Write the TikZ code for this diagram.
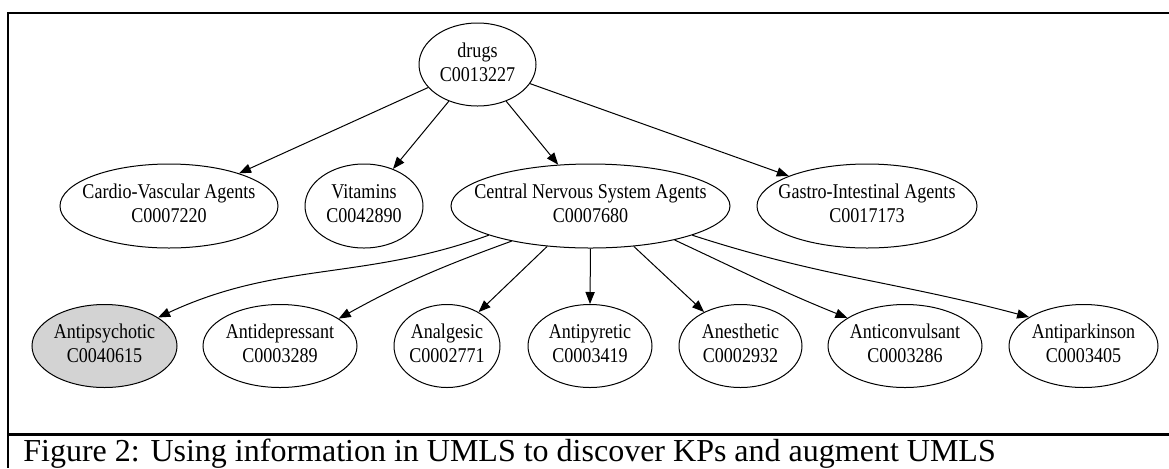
\documentclass[tikz,border=0pt]{standalone}
\usepackage{fontspec}
\usepackage{tikz}
\usetikzlibrary{shapes.geometric,arrows.meta}
\newfontfamily\gvfont{Liberation Serif}[FakeStretch=0.86]
\newfontfamily\capfont{Liberation Serif}
\definecolor{gvgray}{HTML}{D3D3D3}
\newcommand{\cui}[2]{\makebox[0pt]{\begin{tabular}{@{}c@{}}#1\\#2\end{tabular}}}

\begin{document}
\begin{tikzpicture}[x=0.5pt,y=0.5pt]
\tikzstyle{every node}+=[inner sep=0pt]
\tikzstyle{concept}=[ellipse, draw=black, line width=0.5pt, font={\gvfont\fontsize{10.5}{12}\selectfont}]
\tikzstyle{link}=[black, line width=0.5pt, -{Triangle[length=6pt,width=4.6pt]}]
\useasboundingbox (0,0) rectangle (1169,-468);
\draw [black, line width=1.2pt] (1169,-13) -- (7.8,-13) -- (7.8,-468);
\draw [black, line width=1.2pt] (7.8,-434.5) -- (1169,-434.5);
\node [concept, minimum width=58.5pt, minimum height=41.5pt] (drugs) at (477.5,-64.5) {\cui{drugs}{C0013227}};
\node [concept, minimum width=109pt, minimum height=42pt] (cardio) at (169,-206) {\cui{Cardio-Vascular Agents}{C0007220}};
\node [concept, minimum width=59pt, minimum height=42pt] (vitamins) at (364,-206) {\cui{Vitamins}{C0042890}};
\node [concept, minimum width=139.5pt, minimum height=42pt] (cns) at (590.5,-206) {\cui{Central Nervous System Agents}{C0007680}};
\node [concept, minimum width=110pt, minimum height=42pt] (gastro) at (867,-206) {\cui{Gastro-Intestinal Agents}{C0017173}};
\node [concept, fill=gvgray, minimum width=72.5pt, minimum height=41.5pt] (antipsy) at (104.5,-346) {\cui{Antipsychotic}{C0040615}};
\node [concept, minimum width=77pt, minimum height=41.5pt] (antidep) at (280,-346) {\cui{Antidepressant}{C0003289}};
\node [concept, minimum width=53pt, minimum height=41.5pt] (analg) at (447,-346) {\cui{Analgesic}{C0002771}};
\node [concept, minimum width=62pt, minimum height=41.5pt] (antipyr) at (590,-346) {\cui{Antipyretic}{C0003419}};
\node [concept, minimum width=61.5pt, minimum height=41.5pt] (anesth) at (740.5,-346) {\cui{Anesthetic}{C0002932}};
\node [concept, minimum width=77pt, minimum height=41.5pt] (anticonv) at (905,-346) {\cui{Anticonvulsant}{C0003286}};
\node [concept, minimum width=74.5pt, minimum height=41.5pt] (antipark) at (1083.5,-346) {\cui{Antiparkinson}{C0003405}};
\draw [link] (drugs.205) -- (cardio.25);
\draw [link] (drugs.232) -- (vitamins.52);
\draw [link] (drugs.308) -- (cns.128);
\draw [link] (drugs.340) -- (gastro.159);
\draw [link] (cns.196) to[out=200,in=25] (antipsy.28);
\draw [link] (cns.204) to[out=200,in=29] (antidep.25);
\draw [link] (cns.223) -- (analg.47);
\draw [link] (cns.270) -- (antipyr.90);
\draw [link] (cns.317) -- (anesth.137);
\draw [link] (cns.338) to[out=335,in=158] (anticonv.154);
\draw [link] (cns.344) to[out=342,in=165] (antipark.152);
\node [anchor=base west, font={\capfont\fontsize{16}{19}\selectfont}] (caption) at (23,-461) {Figure 2: Using information in UMLS to discover KPs and augment UMLS};
\end{tikzpicture}
\end{document}
